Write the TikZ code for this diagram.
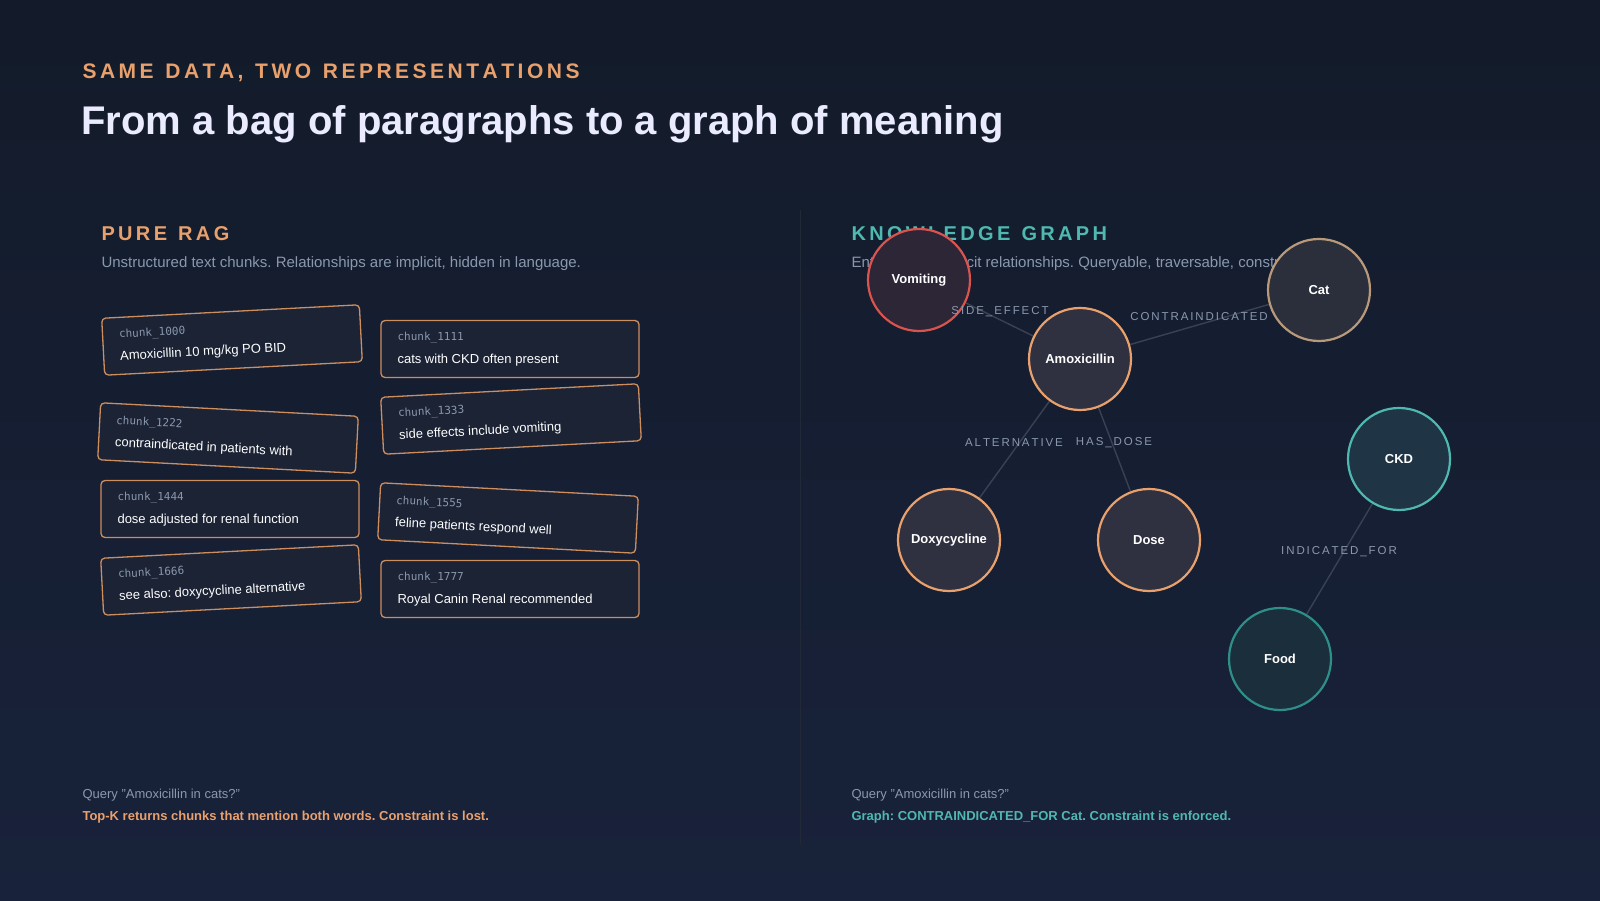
\documentclass[tikz,border=0pt]{standalone}
\usepackage{fontspec}
\setmainfont{Liberation Sans}
\setmonofont{DejaVu Sans Mono}
\frenchspacing
\definecolor{bgA}{HTML}{131B2A}
\definecolor{bgB}{HTML}{18223A}
\definecolor{orng}{HTML}{E8A06C}
\definecolor{teal}{HTML}{4FB8B0}
\definecolor{tealdk}{HTML}{2E8F88}
\definecolor{redc}{HTML}{D9534F}
\definecolor{tan}{HTML}{B89A7A}
\definecolor{muted}{HTML}{8A98AE}
\definecolor{boxfill}{HTML}{1B2335}
\definecolor{edgec}{HTML}{3A4152}
\definecolor{nodefill}{HTML}{2F3140}
\definecolor{catfill}{HTML}{2B2F3B}
\definecolor{vomfill}{HTML}{2D2636}
\definecolor{ckdfill}{HTML}{1F3444}
\definecolor{foodfill}{HTML}{1B2E3C}
\pgfdeclarelayer{back}
\pgfdeclarelayer{edges}
\pgfsetlayers{back,edges,main}
\begin{document}
\begin{tikzpicture}[x=1pt,y=1pt,
  chunkbox/.style={draw=orng!88!black, line width=1.3pt, rounded corners=4pt, fill=boxfill, minimum width=258pt, minimum height=57pt, inner sep=0pt},
  ent/.style={circle, minimum size=102pt, line width=2.2pt, text=white, font=\bfseries\fontsize{13}{15}\selectfont},
  elab/.style={text=muted, font=\fontsize{11.5}{13}\selectfont},
  edge/.style={draw=edgec, line width=1.4pt}]
\begin{pgfonlayer}{back}
\shade[top color=bgA, bottom color=bgB] (0,0) rectangle (1600,900);
\draw[white!6!bgA, line width=1pt] (800,55) -- (800,690);
\end{pgfonlayer}
\useasboundingbox (0,0) rectangle (1600,900);
% headers
\node[anchor=west, text=orng, font=\bfseries\fontsize{21}{24}\selectfont] (sub) at (79,827) {S\,A\,M\,E\ \ D\,A\,T\,A\,,\ \ T\,W\,O\ \ R\,E\,P\,R\,E\,S\,E\,N\,T\,A\,T\,I\,O\,N\,S};
\node[anchor=west, text=white!92!blue, font=\bfseries\fontsize{40}{46}\selectfont] (title) at (78,776) {From a bag of paragraphs to a graph of meaning};
\node[anchor=west, text=orng, font=\bfseries\fontsize{20}{24}\selectfont] (rag) at (98,666) {P\,U\,R\,E\ \ R\,A\,G};
\node[anchor=west, text=muted, font=\fontsize{15}{18}\selectfont] (ragd) at (98,636) {Unstructured text chunks. Relationships are implicit, hidden in language.};
\node[anchor=west, text=teal, font=\bfseries\fontsize{20}{24}\selectfont] (kg) at (848,666) {K\,N\,O\,W\,L\,E\,D\,G\,E\ \ G\,R\,A\,P\,H};
\node[anchor=west, text=muted, font=\fontsize{15}{18}\selectfont] (kgd) at (848,636) {Entities with explicit relationships. Queryable, traversable, constrained.};
% chunks
\foreach \nm/\cx/\cy/\r/\id/\txt in {
 c0/232/560/3/1000/{Amoxicillin 10 mg/kg PO BID},
 c1/510/551/0/1111/{cats with CKD often present},
 c2/228/462/-3/1222/{contraindicated in patients with},
 c3/511/481/3/1333/{side effects include vomiting},
 c4/230/391/0/1444/{dose adjusted for renal function},
 c5/508/382/-3/1555/{feline patients respond well},
 c6/231/320/3/1666/{see also: doxycycline alternative},
 c7/510/311/0/1777/{Royal Canin Renal recommended}}{
 \begin{scope}[shift={(\cx,\cy)}, rotate=\r]
  \node[chunkbox, rotate=\r] (\nm) at (0,0) {};
  \node[anchor=west, rotate=\r, text=muted, font=\ttfamily\fontsize{11}{13}\selectfont] (\nm l) at (-116,11) {chunk\_\id};
  \node[anchor=west, rotate=\r, text=white, font=\fontsize{13}{15}\selectfont] (\nm t) at (-116,-11) {\txt};
 \end{scope}}
% graph nodes
\node[ent, draw=redc, fill=vomfill] (vom) at (919,620) {Vomiting};
\node[ent, draw=orng, fill=nodefill] (amox) at (1080,541) {Amoxicillin};
\node[ent, draw=tan, fill=catfill] (cat) at (1319,610) {Cat};
\node[ent, draw=teal, fill=ckdfill] (ckd) at (1399,441) {CKD};
\node[ent, draw=orng, fill=nodefill] (doxy) at (949,360) {Doxycycline};
\node[ent, draw=orng, fill=nodefill] (dose) at (1149,360) {Dose};
\node[ent, draw=tealdk, fill=foodfill] (food) at (1280,241) {Food};
\begin{pgfonlayer}{edges}
\draw[edge] (vom) -- (amox);
\draw[edge] (amox) -- (cat);
\draw[edge] (amox) -- (doxy);
\draw[edge] (amox) -- (dose);
\draw[edge] (ckd) -- (food);
\end{pgfonlayer}
\node[elab] (l1) at (1000,588) {S\,I\,D\,E\,\_\,E\,F\,F\,E\,C\,T};
\node[elab] (l2) at (1199,583) {C\,O\,N\,T\,R\,A\,I\,N\,D\,I\,C\,A\,T\,E\,D};
\node[elab] (l3) at (1014,457) {A\,L\,T\,E\,R\,N\,A\,T\,I\,V\,E};
\node[elab] (l4) at (1114,457) {H\,A\,S\,\_\,D\,O\,S\,E};
\node[elab] (l5) at (1339,348) {I\,N\,D\,I\,C\,A\,T\,E\,D\,\_\,F\,O\,R};
% bottom
\node[anchor=west, text=muted, font=\fontsize{13}{15}\selectfont] (q1) at (79,105) {Query "Amoxicillin in cats?"};
\node[anchor=west, text=orng, font=\bfseries\fontsize{13}{15}\selectfont] (a1) at (79,83) {Top-K returns chunks that mention both words. Constraint is lost.};
\node[anchor=west, text=muted, font=\fontsize{13}{15}\selectfont] (q2) at (848,105) {Query "Amoxicillin in cats?"};
\node[anchor=west, text=teal, font=\bfseries\fontsize{13}{15}\selectfont] (a2) at (848,83) {Graph: CONTRAINDICATED\_FOR Cat. Constraint is enforced.};
\end{tikzpicture}
\end{document}
